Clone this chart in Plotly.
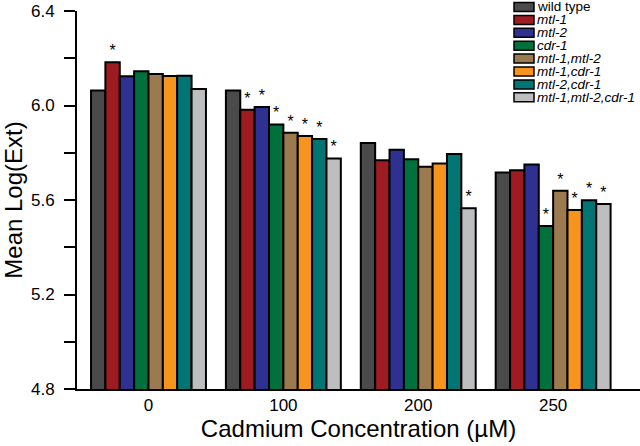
import plotly.graph_objects as go

categories = ["0", "100", "200", "250"]
strains = ["wild type", "mtl-1", "mtl-2", "cdr-1", "mtl-1,mtl-2",
           "mtl-1,cdr-1", "mtl-2,cdr-1", "mtl-1,mtl-2,cdr-1"]
italic = [False, True, True, True, True, True, True, True]
colors = ["#4a4a4a", "#9e1b22", "#2e3192", "#00703c", "#9b7a50",
          "#f7941d", "#007573", "#bcbec0"]

wild_type = [6.063, 6.063, 5.841, 5.716]
mtl_1 = [6.183, 5.982, 5.768, 5.726]
mtl_2 = [6.124, 5.994, 5.813, 5.750]
cdr_1 = [6.145, 5.920, 5.772, 5.490]
mtl_1_mtl_2 = [6.133, 5.885, 5.741, 5.639]
mtl_1_cdr_1 = [6.125, 5.871, 5.754, 5.558]
mtl_2_cdr_1 = [6.126, 5.858, 5.795, 5.599]
mtl_1_mtl_2_cdr_1 = [6.070, 5.776, 5.565, 5.583]
values = [wild_type, mtl_1, mtl_2, cdr_1, mtl_1_mtl_2,
          mtl_1_cdr_1, mtl_2_cdr_1, mtl_1_mtl_2_cdr_1]

# significance markers (per strain, per concentration)
sig_wild_type = [False, False, False, False]
sig_mtl_1 = [True, True, False, False]
sig_mtl_2 = [False, True, False, False]
sig_cdr_1 = [False, True, False, True]
sig_mtl_1_mtl_2 = [False, True, False, True]
sig_mtl_1_cdr_1 = [False, True, False, True]
sig_mtl_2_cdr_1 = [False, True, False, True]
sig_mtl_1_mtl_2_cdr_1 = [False, True, True, True]
sigs = [sig_wild_type, sig_mtl_1, sig_mtl_2, sig_cdr_1, sig_mtl_1_mtl_2,
        sig_mtl_1_cdr_1, sig_mtl_2_cdr_1, sig_mtl_1_mtl_2_cdr_1]

y_tickvals = [4.8, 5.0, 5.2, 5.4, 5.6, 5.8, 6.0, 6.2, 6.4]
y_ticktext = ["4.8", "", "5.2", "", "5.6", "", "6.0", "", "6.4"]

FONT = "Liberation Sans, Arial, sans-serif"

fig = go.Figure()
for name, vals, col, sg in zip(strains, values, colors, sigs):
    fig.add_trace(go.Bar(
        x=categories, y=vals, name=name,
        marker=dict(color=col, line=dict(color="black", width=2)),
        text=["*" if s else "" for s in sg],
        textposition="outside",
        textfont=dict(size=16, color="black", family=FONT),
        cliponaxis=False,
        showlegend=False,
    ))

# manual compact legend
L, R, T, B = 77, 0, 11, 57
W, H = 640, 446
pw, ph = W - L - R, H - T - B
def px_x(px):
    return (px - L) / pw
def px_y(py):
    return (H - B - py) / ph

shapes = []
annotations = []
for i, (name, col, it) in enumerate(zip(strains, colors, italic)):
    cy = 7 + i * 12.9
    shapes.append(dict(type="rect", xref="paper", yref="paper",
                       x0=px_x(514), x1=px_x(534),
                       y0=px_y(cy + 4.5), y1=px_y(cy - 4.5),
                       fillcolor=col, line=dict(color="black", width=1.5)))
    annotations.append(dict(xref="paper", yref="paper", x=px_x(536), y=px_y(cy),
                            xanchor="left", yanchor="middle",
                            text=(f"<i>{name}</i>" if it else name),
                            showarrow=False, borderpad=0,
                            font=dict(size=13.5, color="black", family=FONT)))

fig.update_layout(
    width=W, height=H,
    margin=dict(l=L, r=R, t=T, b=B, autoexpand=False),
    paper_bgcolor="white", plot_bgcolor="white",
    barmode="group", bargap=0.148, bargroupgap=0,
    font=dict(family=FONT, color="black"),
    shapes=shapes, annotations=annotations,
    xaxis=dict(
        range=[-0.53, 3.644], automargin=False,
        showline=True, linecolor="black", linewidth=2,
        ticks="", tickfont=dict(size=17),
        title=dict(text="Cadmium Concentration (µM)", font=dict(size=24), standoff=4),
        showgrid=False, zeroline=False,
    ),
    yaxis=dict(
        range=[4.8, 6.4], automargin=False,
        tickvals=y_tickvals, ticktext=y_ticktext,
        showline=True, linecolor="black", linewidth=2,
        ticks="outside", ticklen=11, tickwidth=2, tickcolor="black",
        tickfont=dict(size=17), ticklabelstandoff=6,
        title=dict(text="Mean Log(Ext)", font=dict(size=24), standoff=3),
        showgrid=False, zeroline=False,
    ),
)

fig.write_html("out.html", config={"displayModeBar": False},
               post_script="document.body.style.margin='0';")
